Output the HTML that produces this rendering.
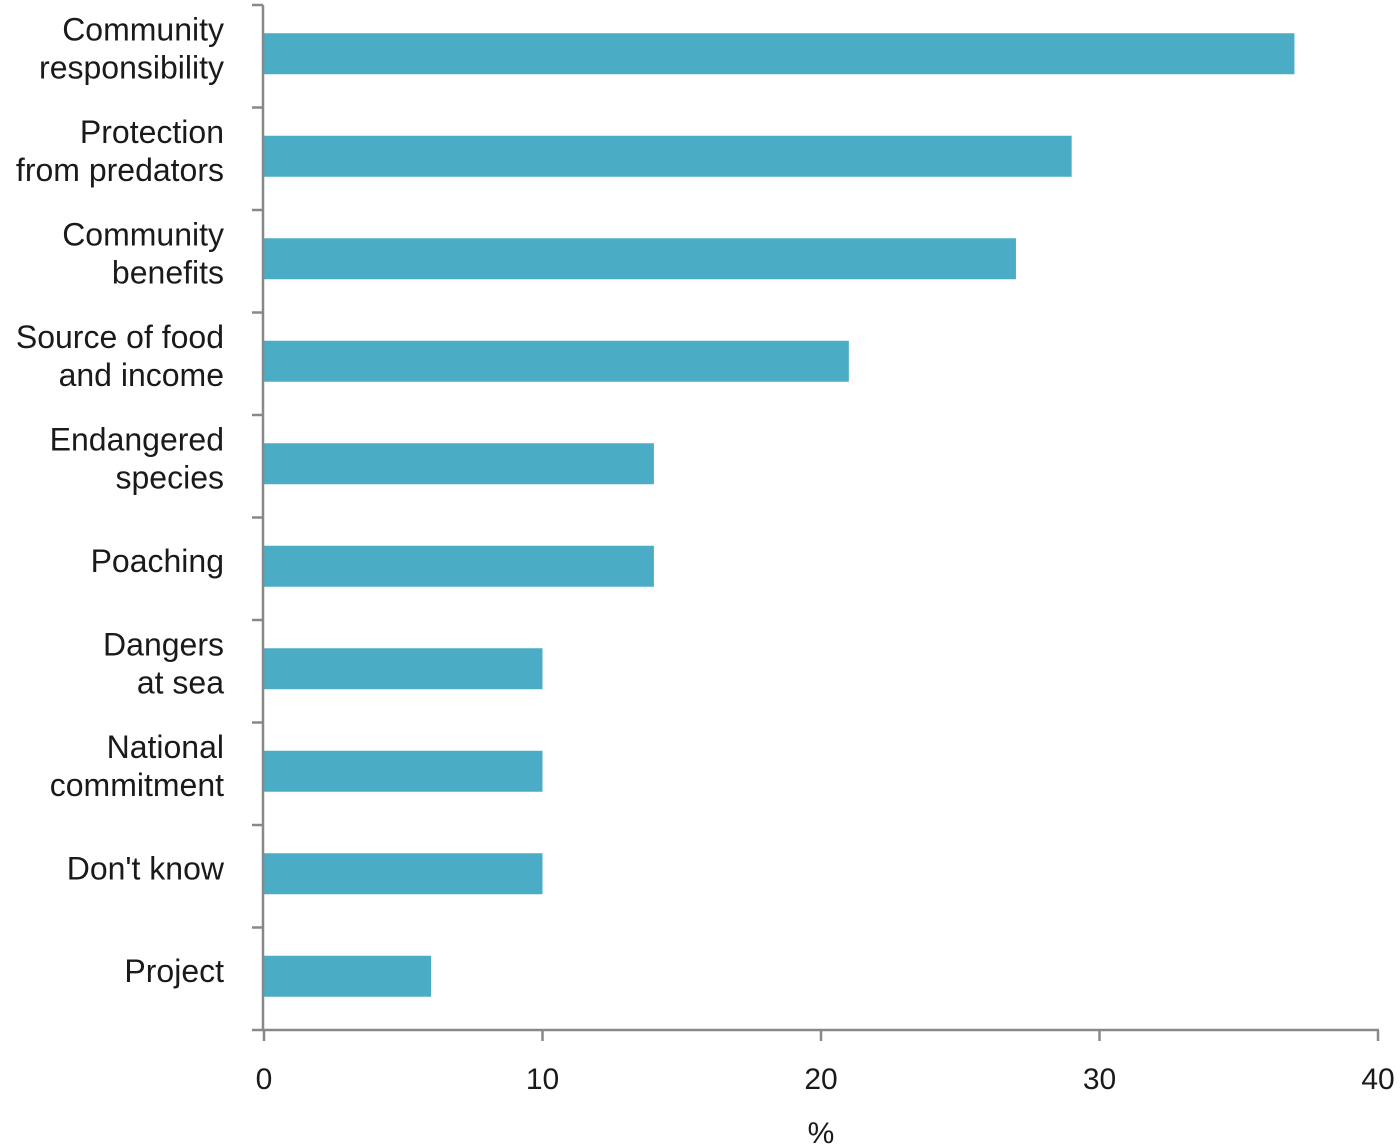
<!DOCTYPE html>
<html><head><meta charset="utf-8"><style>
html,body{margin:0;padding:0;background:#fff;}
svg{display:block;}
text{font-family:"Liberation Sans",sans-serif;fill:#1a1a1a;}
</style></head><body>
<svg id="chart" width="1400" height="1148"></svg>
<script>
const categories = [["Community","responsibility"],["Protection","from predators"],["Community","benefits"],["Source of food","and income"],["Endangered","species"],["Poaching"],["Dangers","at sea"],["National","commitment"],["Don't know"],["Project"]];
const values = [37,29,27,21,14,14,10,10,10,6];
const xTicks = [0,10,20,30,40];
const xTitle = "%";

const svg = document.getElementById('chart');
const NS = 'http://www.w3.org/2000/svg';
const x0 = 264, x1 = 1378, yTop = 5, yBot = 1030;
const xScale = v => x0 + (v - 0) / (40 - 0) * (x1 - x0);
const band = (yBot - yTop) / categories.length;
const yBand = i => yTop + i * band;
function mk(tag, attrs){ const e = document.createElementNS(NS, tag); for (const k in attrs) e.setAttribute(k, attrs[k]); svg.appendChild(e); return e; }

values.forEach((v, i) => {
  const r = mk('rect', {x: x0, y: yBand(i) + band/2 - 23, width: xScale(v) - x0, height: 41, fill: '#4BACC6'});
  
  
});

const ya = mk('line', {x1: 263, y1: yTop, x2: 263, y2: yBot, stroke: '#888', 'stroke-width': 2.5});


for (let i = 0; i <= categories.length; i++) {
  const t = mk('line', {x1: 252, y1: yBand(i), x2: 263, y2: yBand(i), stroke: '#888', 'stroke-width': 2.5});
  
  
}
categories.forEach((lines, i) => {
  const c = yBand(i) + band/2 - 8;
  const lh = 38;
  lines.forEach((ln, j) => {
    const y = c + (j - (lines.length - 1)/2) * lh + 11;
    const t = mk('text', {x: 224, y: y, 'text-anchor': 'end', 'font-size': 32});
    t.textContent = ln;
    
    
  });
});

const xa = mk('line', {x1: 262, y1: yBot, x2: x1 + 1, y2: yBot, stroke: '#888', 'stroke-width': 2.5});


xTicks.forEach(v => {
  const t = mk('line', {x1: xScale(v), y1: yBot, x2: xScale(v), y2: yBot + 11, stroke: '#888', 'stroke-width': 2.5});
  
  
  const l = mk('text', {x: xScale(v), y: 1089, 'text-anchor': 'middle', 'font-size': 30});
  l.textContent = v;
  
  
});
const xt = mk('text', {x: 821, y: 1143, 'text-anchor': 'middle', 'font-size': 30});
xt.textContent = xTitle;


</script>
</body></html>
